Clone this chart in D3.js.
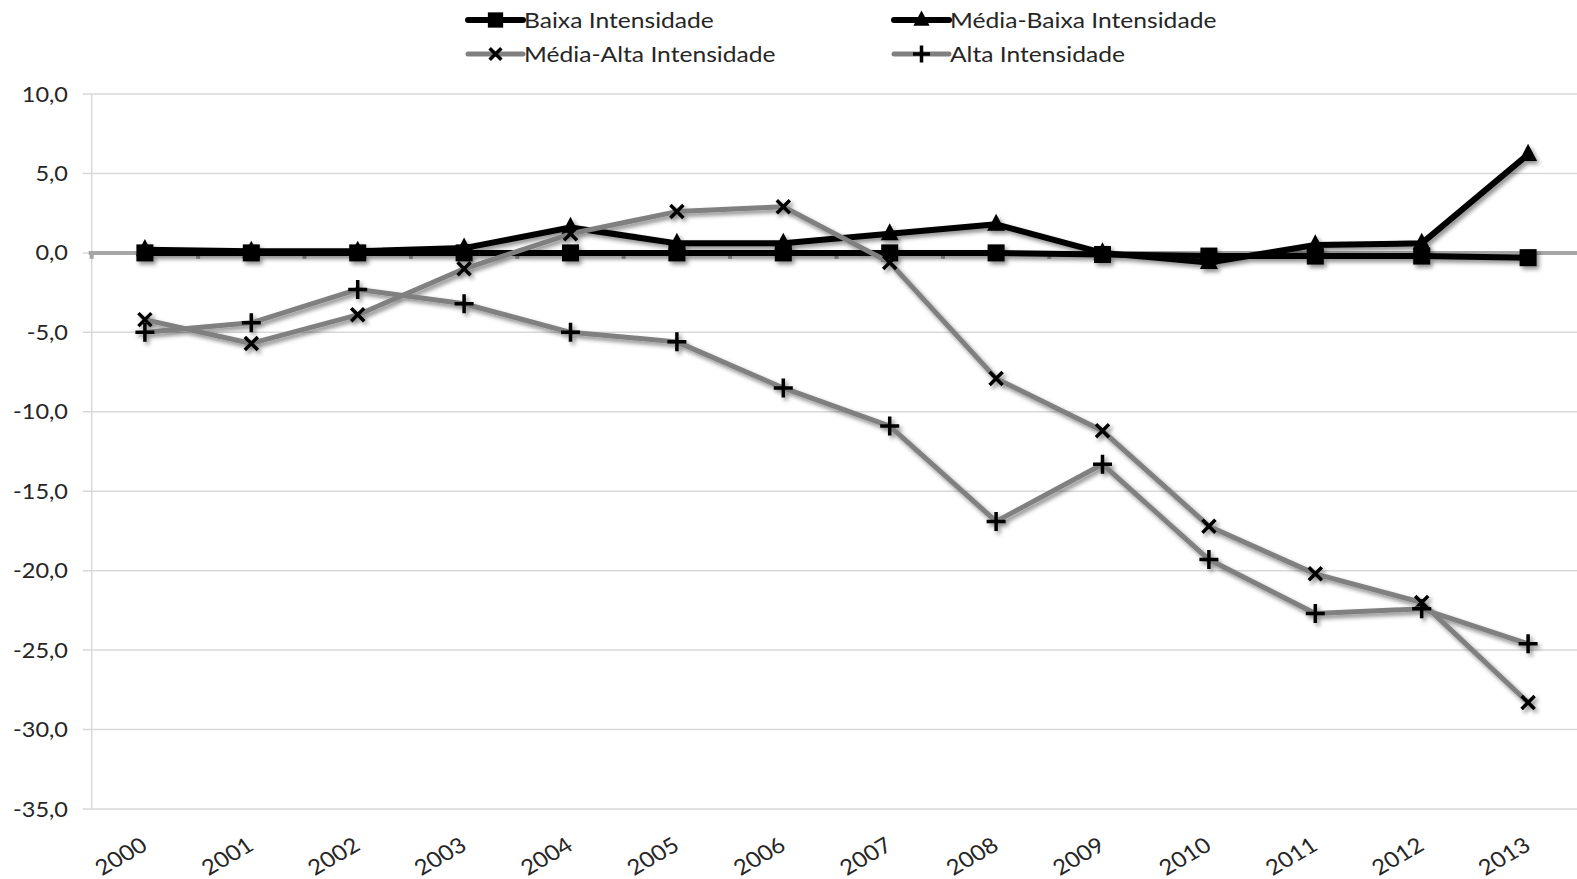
<!DOCTYPE html>
<html>
<head>
<meta charset="utf-8">
<script src="https://cdn.jsdelivr.net/npm/d3@7"></script>
<style>
  html, body { margin: 0; padding: 0; background: #fff; }
  svg { display: block; }
  text { font-family: Lato, "Open Sans", sans-serif; fill: #262626; }
</style>
</head>
<body>
<svg id="chart" width="1577" height="879"></svg>
<script>
const years = ["2000","2001","2002","2003","2004","2005","2006","2007","2008","2009","2010","2011","2012","2013"];
const baixaIntensidade     = [0.0, 0.0, 0.0, 0.0, 0.0, 0.0, 0.0, 0.0, 0.0, -0.1, -0.2, -0.2, -0.2, -0.3];
const mediaBaixaIntensidade = [0.2, 0.1, 0.1, 0.3, 1.6, 0.6, 0.6, 1.2, 1.8, 0.0, -0.6, 0.5, 0.6, 6.2];
const mediaAltaIntensidade  = [-4.2, -5.7, -3.9, -1.0, 1.2, 2.6, 2.9, -0.6, -7.9, -11.2, -17.2, -20.2, -22.0, -28.3];
const altaIntensidade       = [-5.0, -4.4, -2.3, -3.2, -5.0, -5.6, -8.5, -10.9, -16.9, -13.3, -19.3, -22.7, -22.4, -24.6];
const seriesNames = ["Baixa Intensidade", "Média-Baixa Intensidade", "Média-Alta Intensidade", "Alta Intensidade"];
const yTicks = [10, 5, 0, -5, -10, -15, -20, -25, -30, -35];

const seriesList = [
  { name: seriesNames[0], values: baixaIntensidade, color: "#000000", width: 6, marker: "square" },
  { name: seriesNames[1], values: mediaBaixaIntensidade, color: "#000000", width: 6, marker: "triangle" },
  { name: seriesNames[2], values: mediaAltaIntensidade, color: "#808080", width: 5, marker: "cross" },
  { name: seriesNames[3], values: altaIntensidade, color: "#808080", width: 5, marker: "plus" }
];

const SX = 1.12; // horizontal text stretch seen in the reference
const svg = d3.select("#chart");
const defs = svg.append("defs");
const f = defs.append("filter").attr("id", "shadow").attr("x", "-20%").attr("y", "-20%").attr("width", "140%").attr("height", "140%");
f.append("feDropShadow").attr("dx", 2.5).attr("dy", 3).attr("stdDeviation", 2).attr("flood-color", "#000").attr("flood-opacity", 0.45);

const plotLeft = 91.7, plotTop = 94, plotBottom = 809;
const step = 106.4;
const x = d3.scaleBand().domain(years).range([plotLeft, plotLeft + step * years.length]).padding(0);
const y = d3.scaleLinear().domain([-35, 10]).range([plotBottom, plotTop]);
const cx = d => x(d) + x.bandwidth() / 2;

const loc = d3.formatLocale({ decimal: ",", thousands: ".", grouping: [3], currency: ["", ""], minus: "-" });
const fmt = loc.format(".1f");

// gridlines
svg.append("g").selectAll("line").data(yTicks).join("line")
  .attr("x1", plotLeft - 9).attr("x2", x.range()[1])
  .attr("y1", d => y(d)).attr("y2", d => y(d))
  .attr("stroke", "#d9d9d9").attr("stroke-width", 1.5);

// vertical axis line
svg.append("line").attr("x1", plotLeft).attr("x2", plotLeft)
  .attr("y1", y(10)).attr("y2", y(-35)).attr("stroke", "#d9d9d9").attr("stroke-width", 1.5);

// y labels
svg.append("g").selectAll("text").data(yTicks).join("text")
  .attr("transform", d => `translate(${plotLeft - 23.7},${y(d)}) scale(${SX},1)`)
  .attr("text-anchor", "end").attr("dy", "0.36em")
  .style("font-size", "21px")
  .text(d => fmt(d));

// zero category axis line with tick marks between categories
const axisG = svg.append("g");
axisG.append("line").attr("x1", plotLeft - 3).attr("x2", x.range()[1])
  .attr("y1", y(0)).attr("y2", y(0)).attr("stroke", "#a6a6a6").attr("stroke-width", 4);
axisG.selectAll("line.tk").data(d3.range(years.length + 1)).join("line").attr("class", "tk")
  .attr("x1", i => x.range()[0] + i * x.step()).attr("x2", i => x.range()[0] + i * x.step())
  .attr("y1", y(0)).attr("y2", y(0) + 6)
  .attr("stroke", "#a6a6a6").attr("stroke-width", 4);

// x labels
svg.append("g").selectAll("text").data(years).join("text")
  .attr("transform", d => `translate(${cx(d) + 4},849) scale(${SX},1) rotate(-33)`)
  .attr("text-anchor", "end")
  .style("font-size", "21.5px")
  .text(d => d);

function drawMarker(g, type, size) {
  const s = size;
  if (type === "square") {
    g.append("rect").attr("x", -s / 2).attr("y", -s / 2).attr("width", s).attr("height", s).attr("fill", "#000");
  } else if (type === "triangle") {
    const h = s * 0.95;
    g.append("path").attr("d", `M0,${-h * 0.62} L${s / 2},${h * 0.38} L${-s / 2},${h * 0.38} Z`).attr("fill", "#000");
  } else if (type === "cross") {
    const r = s / 2;
    g.append("path").attr("d", `M${-r},${-r} L${r},${r} M${-r},${r} L${r},${-r}`)
      .attr("stroke", "#000").attr("stroke-width", 3.5).attr("fill", "none");
  } else if (type === "plus") {
    const r = s / 2;
    g.append("path").attr("d", `M${-r},0 L${r},0 M0,${-r} L0,${r}`)
      .attr("stroke", "#000").attr("stroke-width", 3.5).attr("fill", "none");
  }
}
const markerSize = { square: 17, triangle: 18, cross: 13, plus: 19 };

const line = d3.line().x((d, i) => cx(years[i])).y(d => y(d));
const plotG = svg.append("g").attr("filter", "url(#shadow)");
seriesList.forEach(s => {
  const g = plotG.append("g");
  g.append("path").datum(s.values).attr("d", line)
    .attr("fill", "none").attr("stroke", s.color).attr("stroke-width", s.width)
    .attr("stroke-linejoin", "round");
  s.values.forEach((v, i) => {
    const mg = g.append("g").attr("transform", `translate(${cx(years[i])},${y(v)})`);
    drawMarker(mg, s.marker, markerSize[s.marker]);
  });
});

// legend
const legendPos = [
  { x: 468, y: 20 }, { x: 894, y: 20 }, { x: 468, y: 54 }, { x: 894, y: 54 }
];
const legendG = svg.append("g");
seriesList.forEach((s, i) => {
  const p = legendPos[i];
  const g = legendG.append("g").attr("transform", `translate(${p.x},${p.y})`);
  g.append("line").attr("x1", 0).attr("x2", 55).attr("y1", 0).attr("y2", 0)
    .attr("stroke", s.color).attr("stroke-width", s.width).attr("stroke-linecap", "round");
  const mg = g.append("g").attr("transform", "translate(27.5,0)");
  drawMarker(mg, s.marker, markerSize[s.marker] * 0.9);
  g.append("text").attr("transform", `translate(56,0) scale(${SX},1)`)
    .attr("dy", "0.35em").style("font-size", "22px").text(s.name);
});
</script>
</body>
</html>
